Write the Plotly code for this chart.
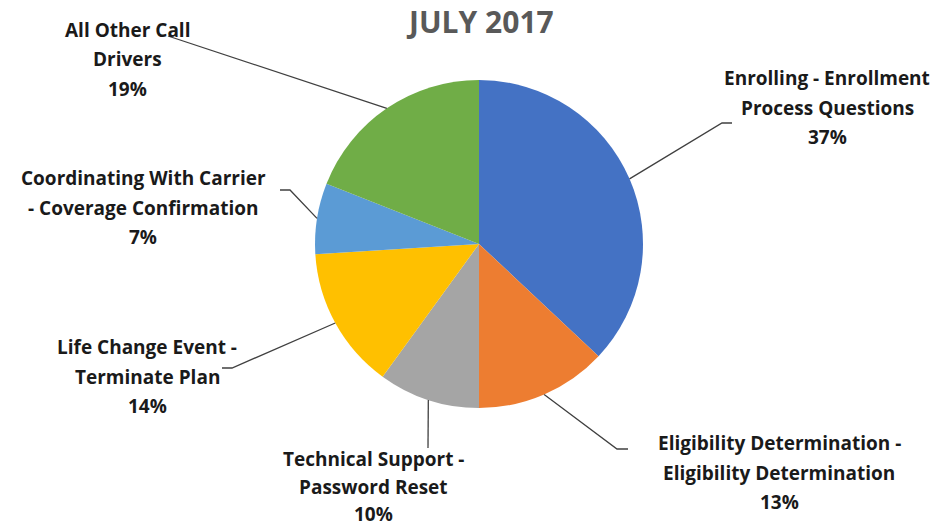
import math
import plotly.graph_objects as go

# ---- data ----
categories = [
    "Enrolling - Enrollment<br>Process Questions",
    "Eligibility Determination -<br>Eligibility Determination",
    "Technical Support -<br>Password Reset",
    "Life Change Event -<br>Terminate Plan",
    "Coordinating With Carrier<br>- Coverage Confirmation",
    "All Other Call<br>Drivers",
]
values = [37, 13, 10, 14, 7, 19]
colors = ["#4472C4", "#ED7D31", "#A5A5A5", "#FFC000", "#5B9BD5", "#70AD47"]
title_text = "JULY 2017"

# ---- layout (pixels) ----
W, H = 942, 528
CX, CY, R = 479, 244, 164
# label centre x, first-line y, line spacing, elbow point, end point
label_pos = [
    (827, 78, 29.5, (722, 123), (732, 123)),
    (779, 443, 29.5, (617, 449), (628, 449)),
    (373, 459, 27.5, (428, 448), (428, 448)),
    (147, 347, 29.5, (232, 368), (222, 368)),
    (143, 178, 29.5, (290, 190), (280, 190)),
    (127, 30, 29.5, (168, 36), (168, 36)),
]

def px(x):
    return x / W

def py(y):
    return 1 - y / H

fig = go.Figure(go.Pie(
    labels=[c.replace("<br>", " ") for c in categories],
    values=values,
    marker=dict(colors=colors, line=dict(width=0)),
    sort=False,
    direction="clockwise",
    rotation=0,
    textinfo="none",
    hoverinfo="label+percent",
    showlegend=False,
    domain=dict(x=[px(CX - R), px(CX + R)], y=[py(CY + R), py(CY - R)]),
))

total = sum(values)
annotations = []
shapes = []
cum = 0
for cat, v, (lx, ly, lh, elbow, end) in zip(categories, values, label_pos):
    mid = (cum + v / 2) / total * 2 * math.pi
    cum += v
    sx = CX + R * math.sin(mid)
    sy = CY - R * math.cos(mid)
    shapes.append(dict(
        type="path", xref="paper", yref="paper",
        path=f"M {px(sx)} {py(sy)} L {px(elbow[0])} {py(elbow[1])} L {px(end[0])} {py(end[1])}",
        line=dict(color="#404040", width=1.3),
    ))
    lines = cat.split("<br>") + [f"{round(v / total * 100)}%"]
    for i, t in enumerate(lines):
        annotations.append(dict(
            x=px(lx), y=py(ly + i * lh), xref="paper", yref="paper",
            text=f"<b>{t}</b>", showarrow=False,
            xanchor="center", yanchor="middle",
            font=dict(family="Open Sans", size=19, color="#1a1a1a"),
        ))

annotations.append(dict(
    x=px(480), y=py(22), xref="paper", yref="paper",
    text=f"<b>{title_text}</b>", showarrow=False,
    xanchor="center", yanchor="middle",
    font=dict(family="Open Sans", size=30, color="#595959"),
))

fig.update_layout(
    width=W, height=H,
    margin=dict(l=0, r=0, t=0, b=0),
    paper_bgcolor="white",
    plot_bgcolor="white",
    annotations=annotations,
    shapes=shapes,
)

fig.write_html("out.html")
